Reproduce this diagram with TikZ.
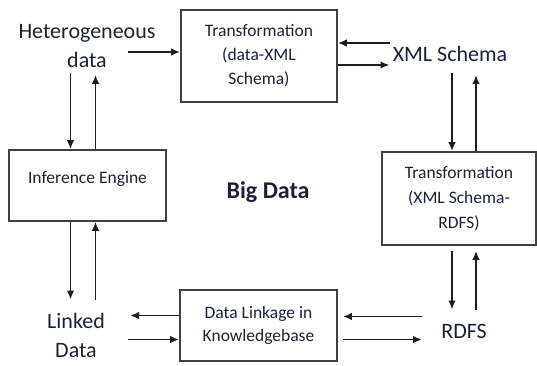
\documentclass[tikz,border=0pt]{standalone}
\usepackage{fontspec}
\setmainfont{Carlito}
\usetikzlibrary{arrows.meta}
\definecolor{inktext}{RGB}{28,32,58}
\definecolor{inkline}{RGB}{30,30,30}

\begin{document}
\begin{tikzpicture}[
	x=1pt, y=-1pt,
	term/.style={text=inktext, align=center, inner sep=3pt, font=\fontsize{22}{29}\selectfont},
	stage/.style={rectangle, draw=inkline!85, line width=1.6pt, text=inktext, align=center, font=\fontsize{17.5}{24}\selectfont},
	arrow/.style={-{Latex[length=9pt,width=7.5pt]}, line width=1.8pt, draw=inkline}
]
\useasboundingbox (0,0) rectangle (537,365);
\node (het) [term] at (87,46) {Heterogeneous\\data};
\node (trans1) [stage, minimum width=156pt, minimum height=92pt] at (259,56) {Transformation\\(data-XML\\Schema)};
\node (xml) [term] at (450,54) {XML Schema};
\node (trans2) [stage, minimum width=154pt, minimum height=93pt, font=\fontsize{17.5}{25}\selectfont] at (459,198.5) {Transformation\\(XML Schema-\\RDFS)};
\node (rdfs) [term] at (464,331) {RDFS};
\node (link) [stage, minimum width=157pt, minimum height=71pt, font=\fontsize{17.5}{23}\selectfont] at (258.5,325.5) {Data Linkage in\\Knowledgebase};
\node (linked) [term] at (76,335) {Linked\\Data};
\node (infer) [stage, minimum width=157pt, minimum height=71pt, text height=12pt, text depth=17pt] at (87.5,185.5) {Inference Engine};
\node (bigdata) [text=inktext, font=\bfseries\fontsize{24}{28}\selectfont] at (268,192) {Big Data};
\draw [arrow] ([xshift=41pt,yshift=-6pt]het.center) -- ([yshift=-6pt]het.center -| trans1.west);
\draw [arrow] ([yshift=11pt]xml.west) -- ([yshift=11pt]xml.west -| trans1.east);
\draw [arrow] ([yshift=-11pt]xml.west -| trans1.east) -- ([yshift=-11pt]xml.west);
\draw [arrow, shorten <=8pt] ([xshift=-7pt]trans2.north |- xml.south) -- ([xshift=-7pt]trans2.north);
\draw [arrow, shorten >=10pt] ([xshift=17pt]trans2.north) -- ([xshift=17pt]trans2.north |- xml.south);
\draw [arrow, shorten <=5pt, shorten >=11pt] ([xshift=-7pt]trans2.south) -- ([xshift=-7pt]trans2.south |- rdfs.north);
\draw [arrow, shorten <=11pt, shorten >=5pt] ([xshift=17pt]trans2.south |- rdfs.north) -- ([xshift=17pt]trans2.south);
\draw [arrow, shorten <=16pt, shorten >=5pt] ([yshift=9pt]link.east -| rdfs.west) -- ([yshift=9pt]link.east);
\draw [arrow, shorten <=5pt, shorten >=16pt] ([yshift=-14pt]link.east) -- ([yshift=-14pt]link.east -| rdfs.west);
\draw [arrow, shorten >=22pt] ([yshift=10pt]link.west) -- ([yshift=10pt]link.west -| linked.east);
\draw [arrow, shorten <=20pt] ([yshift=-14pt]link.west -| linked.east) -- ([yshift=-14pt]link.west);
\draw [arrow, shorten >=10pt] ([xshift=-17pt]infer.south) -- ([xshift=-17pt]infer.south |- linked.north);
\draw [arrow, shorten <=10pt] ([xshift=8pt]infer.south |- linked.north) -- ([xshift=8pt]infer.south);
\draw [arrow, shorten <=2pt] ([xshift=-17pt]infer.north |- het.south) -- ([xshift=-17pt]infer.north);
\draw [arrow, shorten >=4pt] ([xshift=8pt]infer.north) -- ([xshift=8pt]infer.north |- het.south);
\end{tikzpicture}
\end{document}
